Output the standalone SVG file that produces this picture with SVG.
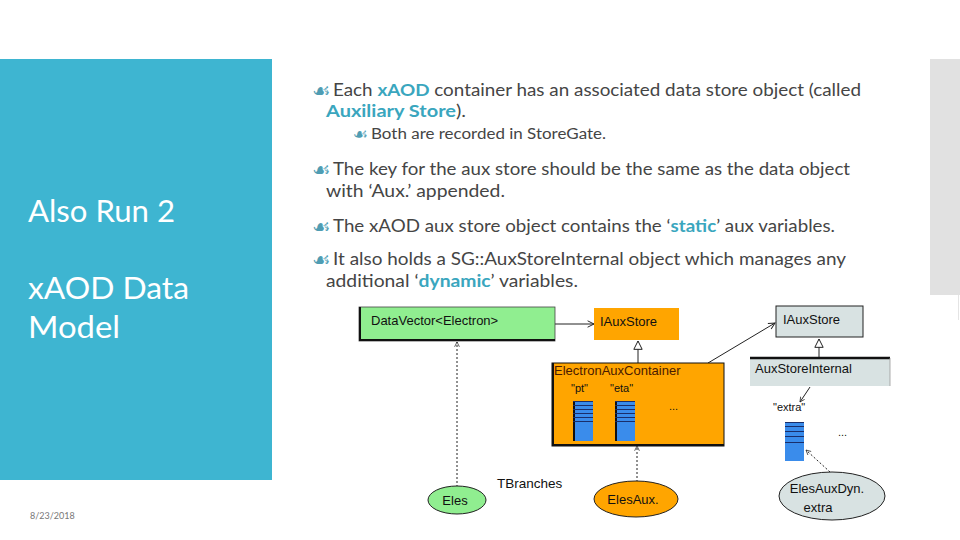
<svg xmlns="http://www.w3.org/2000/svg" width="960" height="540" viewBox="0 0 960 540">
<defs>
<style>
.title{font-family:Lato,"Open Sans","Liberation Sans",sans-serif;font-size:31px;fill:#ffffff}
.body{font-family:Lato,"Open Sans","Liberation Sans",sans-serif;font-size:17px;fill:#454545}
.sub{font-family:Lato,"Open Sans","Liberation Sans",sans-serif;font-size:14.5px;fill:#454545}
.hl{fill:#3AA6BE;font-weight:bold}
.bul{font-family:"DejaVu Sans",sans-serif;font-size:21px;fill:#4F9DB3}
.lbl{font-family:"Liberation Sans",Arial,sans-serif;font-size:13px;fill:#111}
.small{font-family:"Liberation Sans",Arial,sans-serif;font-size:11px;fill:#111}
.assoc{stroke:#222;stroke-width:1;fill:none}
.dot{stroke:#222;stroke-width:1;fill:none;stroke-dasharray:2,2}
.col{fill:#3A8CEB}
.stripe{stroke:#1A2E6A;stroke-width:1}
</style>
<marker id="open" viewBox="0 0 10 10" refX="9" refY="5" markerWidth="8" markerHeight="8" orient="auto" markerUnits="userSpaceOnUse">
<path d="M1,1 L9,5 L1,9" fill="none" stroke="#222" stroke-width="1.2"/>
</marker>
<marker id="tri" viewBox="0 0 12 12" refX="11" refY="6" markerWidth="10" markerHeight="10" orient="auto" markerUnits="userSpaceOnUse">
<path d="M1,1 L11,6 L1,11 Z" fill="#fff" stroke="#222" stroke-width="1.2"/>
</marker>
<marker id="dhead" viewBox="0 0 10 10" refX="9" refY="5" markerWidth="6" markerHeight="6" orient="auto" markerUnits="userSpaceOnUse">
<path d="M1,1 L9,5 L1,9" fill="none" stroke="#222" stroke-width="1.2"/>
</marker>
</defs>
<rect x="0" y="0" width="960" height="540" fill="#ffffff"/>
<rect x="0" y="59" width="272" height="421" fill="#3EB5D1"/>
<rect x="930" y="59" width="30" height="236" fill="#E1E1E1"/>
<line x1="958.5" y1="295" x2="958.5" y2="320" stroke="#e4e4e4" stroke-width="1"/>

<g id="left-title">
<text class="title" x="28" y="222" textLength="147" lengthAdjust="spacingAndGlyphs">Also Run 2</text>
<text class="title" x="28" y="299" textLength="161" lengthAdjust="spacingAndGlyphs">xAOD Data</text>
<text class="title" x="28" y="338" textLength="92" lengthAdjust="spacingAndGlyphs">Model</text>
</g>
<text x="30" y="519" font-family="Lato,'Liberation Sans',sans-serif" font-size="9" fill="#777">8/23/2018</text>

<g id="bullets">
<text class="bul" x="312" y="98">☙</text>
<text class="body" x="333" y="96" textLength="528" lengthAdjust="spacingAndGlyphs">Each <tspan class="hl">xAOD</tspan> container has an associated data store object (called</text>
<text class="body" x="326" y="117" textLength="140" lengthAdjust="spacingAndGlyphs"><tspan class="hl">Auxiliary Store</tspan>).</text>
<text class="bul" x="353" y="140" style="font-size:17px">☙</text>
<text class="sub" x="371" y="139" textLength="235" lengthAdjust="spacingAndGlyphs">Both are recorded in StoreGate.</text>
<text class="bul" x="312" y="177">☙</text>
<text class="body" x="333" y="175" textLength="517" lengthAdjust="spacingAndGlyphs">The key for the aux store should be the same as the data object</text>
<text class="body" x="326" y="197" textLength="179" lengthAdjust="spacingAndGlyphs">with ‘Aux.’ appended.</text>
<text class="bul" x="312" y="234">☙</text>
<text class="body" x="333" y="232" textLength="502" lengthAdjust="spacingAndGlyphs">The xAOD aux store object contains the ‘<tspan class="hl">static</tspan>’ aux variables.</text>
<text class="bul" x="312" y="267">☙</text>
<text class="body" x="333" y="265" textLength="513" lengthAdjust="spacingAndGlyphs">It also holds a SG::AuxStoreInternal object which manages any</text>
<text class="body" x="326" y="287" textLength="252" lengthAdjust="spacingAndGlyphs">additional ‘<tspan class="hl">dynamic</tspan>’ variables.</text>
</g>

<g id="connectors">
<line class="assoc" x1="555" y1="324" x2="594" y2="324" marker-end="url(#open)"/>
<line class="assoc" x1="638" y1="363" x2="638" y2="341" marker-end="url(#tri)"/>
<line class="assoc" x1="708" y1="363" x2="775" y2="323" marker-end="url(#open)"/>
<line class="assoc" x1="819" y1="358" x2="819" y2="339" marker-end="url(#tri)"/>
<line class="assoc" x1="810" y1="387" x2="800" y2="402" marker-end="url(#dhead)"/>
<line class="dot" x1="457" y1="487" x2="457" y2="342" marker-end="url(#dhead)"/>
<line class="dot" x1="637" y1="482" x2="637" y2="446" marker-end="url(#dhead)"/>
<line class="dot" x1="830" y1="472" x2="806" y2="450" marker-end="url(#dhead)"/>
</g>

<g id="datavector">
<rect x="359" y="307" width="196" height="34" fill="#90EE90" stroke="#444" stroke-width="0.8"/>
<line x1="360" y1="307" x2="360" y2="341" stroke="#111" stroke-width="2"/>
<line x1="359" y1="340" x2="555" y2="340" stroke="#111" stroke-width="2"/>
<text class="lbl" x="371" y="325">DataVector&lt;Electron&gt;</text>
</g>

<g id="iauxstore-orange">
<rect x="594" y="308" width="85" height="32" fill="#FFA500"/>
<text class="lbl" x="600" y="326">IAuxStore</text>
</g>

<g id="electronauxcontainer">
<rect x="552" y="363" width="172" height="83" fill="#FFA500" stroke="#111" stroke-width="1"/>
<line x1="553" y1="363" x2="553" y2="446" stroke="#111" stroke-width="2"/>
<line x1="552" y1="445" x2="724" y2="445" stroke="#111" stroke-width="2"/>
<text class="lbl" x="554" y="375" style="fill:#4A1A00">ElectronAuxContainer</text>
<text class="small" x="571" y="392">"pt"</text>
<text class="small" x="610" y="392">"eta"</text>
<g id="col-pt">
<rect class="col" x="573" y="401" width="20" height="40"/>
<line x1="574" y1="401" x2="574" y2="441" stroke="#111" stroke-width="2"/>
<line class="stripe" x1="573" y1="401.5" x2="593" y2="401.5"/>
<line class="stripe" x1="573" y1="405.5" x2="593" y2="405.5"/>
<line class="stripe" x1="573" y1="409.5" x2="593" y2="409.5"/>
<line class="stripe" x1="573" y1="413.5" x2="593" y2="413.5"/>
<line class="stripe" x1="573" y1="417.5" x2="593" y2="417.5"/>
<line class="stripe" x1="573" y1="421.5" x2="593" y2="421.5"/>
</g>
<g id="col-eta">
<rect class="col" x="615" y="401" width="20" height="40"/>
<line x1="616" y1="401" x2="616" y2="441" stroke="#111" stroke-width="2"/>
<line class="stripe" x1="615" y1="401.5" x2="635" y2="401.5"/>
<line class="stripe" x1="615" y1="405.5" x2="635" y2="405.5"/>
<line class="stripe" x1="615" y1="409.5" x2="635" y2="409.5"/>
<line class="stripe" x1="615" y1="413.5" x2="635" y2="413.5"/>
<line class="stripe" x1="615" y1="417.5" x2="635" y2="417.5"/>
<line class="stripe" x1="615" y1="421.5" x2="635" y2="421.5"/>
</g>
<text class="small" x="669" y="410">...</text>
</g>

<g id="iauxstore-grey">
<rect x="776" y="306" width="87" height="31" fill="#D8E2E2" stroke="#222" stroke-width="1"/>
<text class="lbl" x="783" y="324">IAuxStore</text>
</g>

<g id="auxstoreinternal">
<rect x="750" y="358" width="140" height="28" fill="#D8E2E2"/>
<line x1="750" y1="358" x2="890" y2="358" stroke="#111" stroke-width="2.5"/>
<line x1="890" y1="358" x2="890" y2="386" stroke="#999" stroke-width="0.8"/>
<text class="lbl" x="755" y="373">AuxStoreInternal</text>
</g>

<g id="extra-column">
<text class="small" x="773" y="411">"extra"</text>
<rect class="col" x="785" y="422" width="19" height="39"/>
<line class="stripe" x1="785" y1="422.5" x2="804" y2="422.5"/>
<line class="stripe" x1="785" y1="426.5" x2="804" y2="426.5"/>
<line class="stripe" x1="785" y1="431.5" x2="804" y2="431.5"/>
<line class="stripe" x1="785" y1="436.5" x2="804" y2="436.5"/>
<line class="stripe" x1="785" y1="442.5" x2="804" y2="442.5"/>
<text class="small" x="838" y="436">...</text>
</g>

<g id="eles">
<ellipse cx="457" cy="500" rx="29" ry="14" fill="#90EE90" stroke="#222" stroke-width="1"/>
<text class="lbl" x="455" y="504.5" text-anchor="middle">Eles</text>
</g>
<text class="lbl" x="497" y="488" style="font-size:13.5px">TBranches</text>
<g id="elesaux">
<ellipse cx="636" cy="499" rx="42" ry="18" fill="#FFA500" stroke="#222" stroke-width="1"/>
<text class="lbl" x="633" y="503.5" text-anchor="middle">ElesAux.</text>
</g>
<g id="elesauxdyn">
<ellipse cx="832" cy="496" rx="53" ry="24" fill="#D8E2E2" stroke="#222" stroke-width="1"/>
<text class="lbl" x="827" y="493" text-anchor="middle">ElesAuxDyn.</text>
<text class="lbl" x="818" y="512" text-anchor="middle">extra</text>
</g>
</svg>
